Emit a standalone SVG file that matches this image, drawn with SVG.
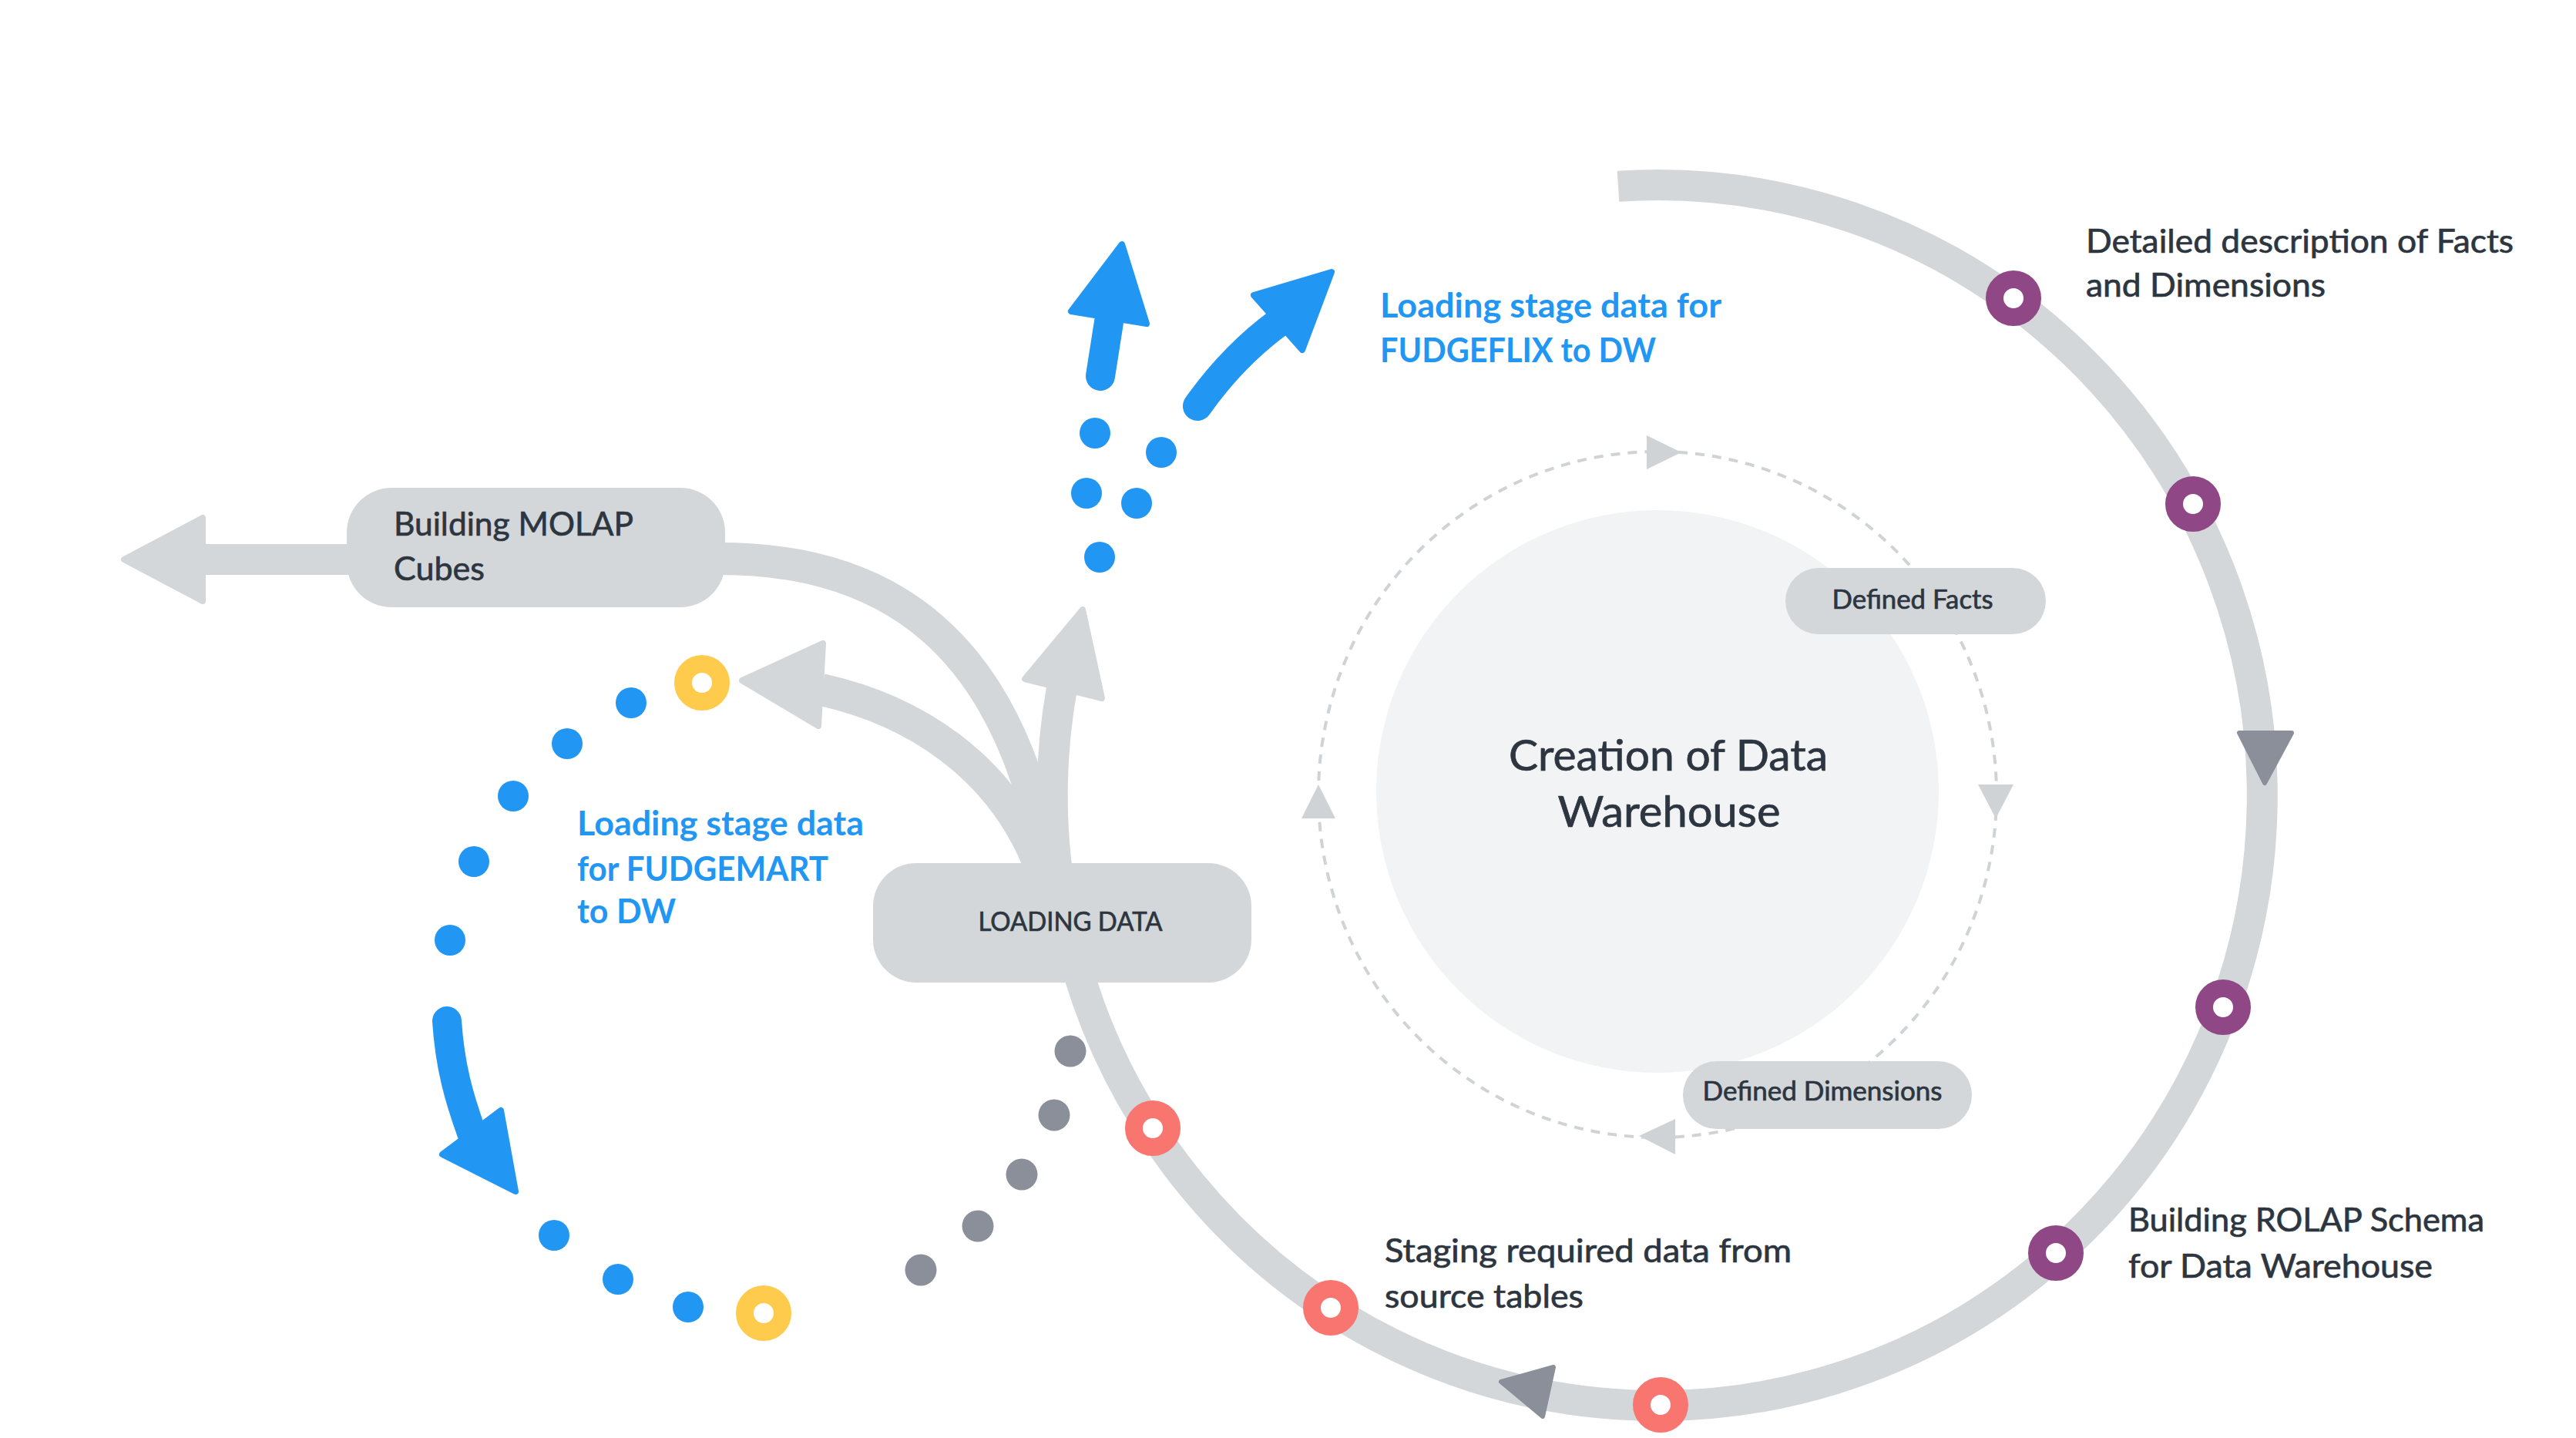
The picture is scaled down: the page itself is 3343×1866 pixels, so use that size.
<svg xmlns="http://www.w3.org/2000/svg" width="3343" height="1866" viewBox="0 0 3343 1866">
<style>
  .ring{fill:none;stroke:#D4D7DA;stroke-width:40}
  .branch{fill:none;stroke:#D4D7DA;stroke-width:42}
  .ghead{fill:#D4D7DA;stroke:#D4D7DA;stroke-width:8;stroke-linejoin:round}
  .dhead{fill:#8A8F99;stroke:#8A8F99;stroke-width:6;stroke-linejoin:round}
  .dash{fill:none;stroke:#D0D3D6;stroke-width:4;stroke-dasharray:12 10}
  .shead{fill:#D0D3D6}
  .pill{fill:#D4D7DA}
  .core{fill:#F2F3F5}
  .bshaft{fill:none;stroke:#2196F3;stroke-width:38;stroke-linecap:round}
  .bhead{fill:#2196F3;stroke:#2196F3;stroke-width:8;stroke-linejoin:round}
  .bdot{fill:#2196F3}
  .gdot{fill:#8A8F99}
  .mk{fill:#FFFFFF;stroke-width:23}
  .purple{stroke:#8F4785}
  .red{stroke:#F8766F}
  .yellow{stroke:#FFCB4D}
  .t{font-family:Lato,"Open Sans","Liberation Sans",sans-serif;fill:#2D3640;stroke:#2D3640;stroke-width:0.7}
  .body{font-size:43px}
  .small{font-size:34px}
  .title{font-size:56px}
  .blue{font-family:Lato,"Open Sans","Liberation Sans",sans-serif;font-weight:700;font-size:43px;fill:#2196F3}
</style>

<g id="connectors">
  <!-- main cycle ring -->
  <path class="ring" d="M 2100 241.7 A 785 792 0 1 1 1378 893"/>
  <polygon class="ghead" points="1405,791 1330,881 1430,906"/>
  <polygon class="dhead" points="2906,951 2974,951 2939,1016"/>
  <polygon class="dhead" points="1948,1793 2016,1774 2002,1838"/>
  <!-- branches from loading data -->
  <path class="branch" d="M 935 725 C 1150 725, 1310 830, 1362 1130"/>
  <path class="branch" d="M 1066 895 C 1180 920, 1300 990, 1352 1130"/>
  <polygon class="ghead" points="963,883 1068,835 1062,942"/>
  <path class="ring" d="M 460 726 L 258 726"/>
  <polygon class="ghead" points="161,726 263,672 263,780"/>
  <!-- inner dashed cycle -->
  <ellipse class="dash" cx="2151" cy="1031" rx="440" ry="445"/>
  <polygon class="shead" points="2137,565 2182,587 2137,609"/>
  <polygon class="shead" points="2567,1018 2613,1018 2590,1062"/>
  <polygon class="shead" points="1711,1018 1689,1062 1733,1062"/>
  <polygon class="shead" points="2127,1474 2174,1452 2174,1498"/>
  <!-- FUDGEFLIX blue arrows -->
  <path class="bshaft" d="M 1428 488 L 1439 418"/>
  <polygon class="bhead" points="1456,317 1390,404 1488,420"/>
  <path class="bshaft" d="M 1554 527 Q 1600 462 1660 418"/>
  <polygon class="bhead" points="1728,353 1627,383 1690,454"/>
  <circle class="bdot" cx="1421" cy="562" r="20"/>
  <circle class="bdot" cx="1507" cy="587" r="20"/>
  <circle class="bdot" cx="1410" cy="640" r="20"/>
  <circle class="bdot" cx="1475" cy="653" r="20"/>
  <circle class="bdot" cx="1427" cy="723" r="20"/>
  <!-- FUDGEMART blue path -->
  <circle class="bdot" cx="819" cy="912" r="20"/>
  <circle class="bdot" cx="736" cy="965" r="20"/>
  <circle class="bdot" cx="666" cy="1033" r="20"/>
  <circle class="bdot" cx="615" cy="1118" r="20"/>
  <circle class="bdot" cx="584" cy="1220" r="20"/>
  <path class="bshaft" d="M 580 1325 C 584 1385, 596 1425, 612 1470"/>
  <polygon class="bhead" points="669,1546 574,1498 650,1441"/>
  <circle class="bdot" cx="719" cy="1603" r="20"/>
  <circle class="bdot" cx="802" cy="1660" r="20"/>
  <circle class="bdot" cx="893" cy="1696" r="20"/>
  <!-- gray dots -->
  <circle class="gdot" cx="1389" cy="1364" r="20.5"/>
  <circle class="gdot" cx="1368" cy="1447" r="20.5"/>
  <circle class="gdot" cx="1326" cy="1524" r="20.5"/>
  <circle class="gdot" cx="1269" cy="1591" r="20.5"/>
  <circle class="gdot" cx="1195" cy="1648" r="20.5"/>
</g>

<g id="node-creation">
  <circle class="core" cx="2151" cy="1027" r="365"/>
  <text class="t title" x="2165" y="1000" text-anchor="middle" textLength="414" lengthAdjust="spacingAndGlyphs">Creation of Data</text>
  <text class="t title" x="2166" y="1073" text-anchor="middle" textLength="289" lengthAdjust="spacingAndGlyphs">Warehouse</text>
</g>

<g id="node-defined-facts">
  <rect class="pill" x="2317" y="737" width="338" height="86" rx="43"/>
  <text class="t small" x="2482" y="790" text-anchor="middle" textLength="209" lengthAdjust="spacingAndGlyphs">Defined Facts</text>
</g>

<g id="node-defined-dimensions">
  <rect class="pill" x="2184" y="1377" width="375" height="88" rx="44"/>
  <text class="t small" x="2365" y="1428" text-anchor="middle" textLength="311" lengthAdjust="spacingAndGlyphs">Defined Dimensions</text>
</g>

<g id="node-molap">
  <rect class="pill" x="450" y="633" width="491" height="155" rx="58"/>
  <text class="t body" x="511" y="695" textLength="311" lengthAdjust="spacingAndGlyphs">Building MOLAP</text>
  <text class="t body" x="511" y="753" textLength="118" lengthAdjust="spacingAndGlyphs">Cubes</text>
</g>

<g id="node-loading">
  <rect class="pill" x="1133" y="1120" width="491" height="155" rx="56"/>
  <text class="t small" x="1389" y="1208" text-anchor="middle" textLength="239" lengthAdjust="spacingAndGlyphs">LOADING DATA</text>
</g>

<g id="markers">
  <circle class="mk purple" cx="2613" cy="387" r="24.5"/>
  <circle class="mk purple" cx="2846" cy="654" r="24.5"/>
  <circle class="mk purple" cx="2885" cy="1307" r="24.5"/>
  <circle class="mk purple" cx="2668" cy="1626" r="24.5"/>
  <circle class="mk red" cx="1496" cy="1464" r="24.5"/>
  <circle class="mk red" cx="1727" cy="1697" r="24.5"/>
  <circle class="mk red" cx="2155" cy="1823" r="24.5"/>
  <circle class="mk yellow" cx="911" cy="886" r="24.5"/>
  <circle class="mk yellow" cx="991" cy="1704" r="24.5"/>
</g>

<g id="label-facts-dimensions">
  <text class="t body" x="2707" y="328" textLength="555" lengthAdjust="spacingAndGlyphs">Detailed description of Facts</text>
  <text class="t body" x="2707" y="385" textLength="311" lengthAdjust="spacingAndGlyphs">and Dimensions</text>
</g>

<g id="label-rolap">
  <text class="t body" x="2762" y="1598" textLength="462" lengthAdjust="spacingAndGlyphs">Building ROLAP Schema</text>
  <text class="t body" x="2762" y="1658" textLength="395" lengthAdjust="spacingAndGlyphs">for Data Warehouse</text>
</g>

<g id="label-staging">
  <text class="t body" x="1797" y="1638" textLength="528" lengthAdjust="spacingAndGlyphs">Staging required data from</text>
  <text class="t body" x="1797" y="1697" textLength="258" lengthAdjust="spacingAndGlyphs">source tables</text>
</g>

<g id="label-fudgeflix">
  <text class="blue" x="1791" y="412" textLength="443" lengthAdjust="spacingAndGlyphs">Loading stage data for</text>
  <text class="blue" x="1791" y="470" textLength="358" lengthAdjust="spacingAndGlyphs">FUDGEFLIX to DW</text>
</g>

<g id="label-fudgemart">
  <text class="blue" x="749" y="1084" textLength="372" lengthAdjust="spacingAndGlyphs">Loading stage data</text>
  <text class="blue" x="749" y="1143" textLength="326" lengthAdjust="spacingAndGlyphs">for FUDGEMART</text>
  <text class="blue" x="749" y="1198" textLength="128" lengthAdjust="spacingAndGlyphs">to DW</text>
</g>
</svg>
